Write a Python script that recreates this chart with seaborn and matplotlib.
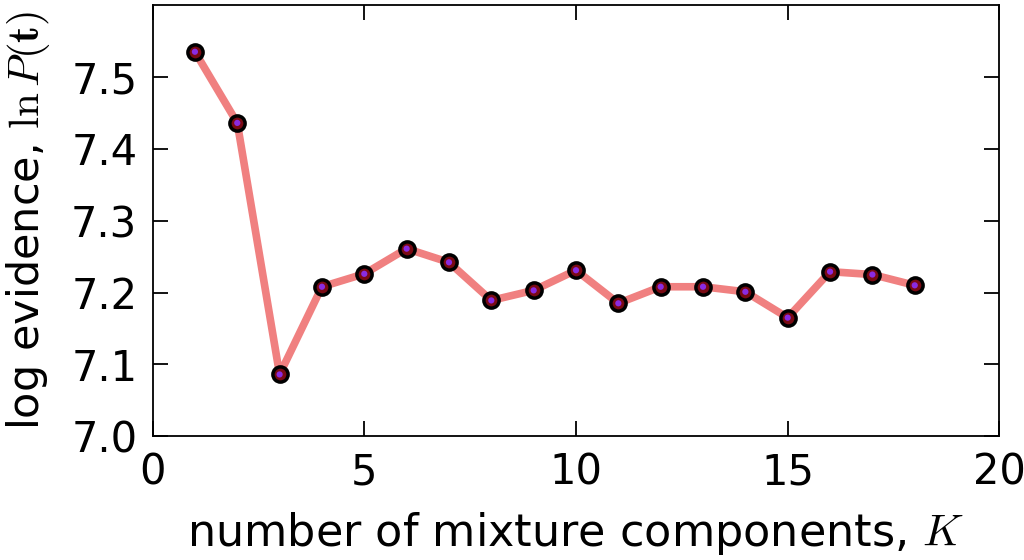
import numpy as np
import pandas as pd
import matplotlib
matplotlib.use("Agg")
import matplotlib.pyplot as plt
import seaborn as sns

K = [1, 2, 3, 4, 5, 6, 7, 8, 9, 10, 11, 12, 13, 14, 15, 16, 17, 18]
log_evidence = [7.535, 7.436, 7.086, 7.208, 7.226, 7.261, 7.242, 7.189, 7.203,
                7.231, 7.185, 7.208, 7.208, 7.201, 7.165, 7.229, 7.225, 7.210]
x_ticks = [0, 5, 10, 15, 20]
y_ticks = [7.0, 7.1, 7.2, 7.3, 7.4, 7.5]

sns.set_style("ticks")
plt.rcParams['font.family'] = ['DejaVu Sans']
plt.rcParams['mathtext.fontset'] = 'cm'
plt.rcParams['text.color'] = 'black'
plt.rcParams['axes.labelcolor'] = 'black'
plt.rcParams['xtick.color'] = 'black'
plt.rcParams['ytick.color'] = 'black'
plt.rcParams['axes.edgecolor'] = 'black'

df = pd.DataFrame({"K": K, "ev": log_evidence})

fig = plt.figure(figsize=(10.24, 5.6), dpi=100)
ax = fig.add_axes([0.149, 0.221, 0.827, 0.770])

sns.lineplot(data=df, x="K", y="ev", ax=ax, color="#F08080", linewidth=5.5,
             zorder=2)
sns.scatterplot(data=df, x="K", y="ev", ax=ax, s=120, color="#7a0a14",
                edgecolor="black", linewidth=2.5, zorder=3)
sns.scatterplot(data=df, x="K", y="ev", ax=ax, s=20, color="#8a2be2",
                edgecolor="none", zorder=4)

ax.set_xlim(0, 20)
ax.set_ylim(7.0, 7.6)
ax.set_xticks(x_ticks)
ax.set_yticks(y_ticks)
ax.set_xticklabels([str(t) for t in x_ticks])
ax.set_yticklabels([f"{t:.1f}" for t in y_ticks])
ax.tick_params(axis='both', which='major', labelsize=30, length=11, width=1.3,
               top=True, right=True, direction='in', pad=11,
               colors='black')
for sp in ax.spines.values():
    sp.set_linewidth(1.3)
    sp.set_visible(True)
    sp.set_color('black')

ax.set_xlabel(r"number of mixture components, $K$", fontsize=32, labelpad=12)
ax.set_ylabel(r"log evidence, $\ln P(\mathbf{t})$", fontsize=31, labelpad=14)

fig.savefig("out.png", dpi=100)
